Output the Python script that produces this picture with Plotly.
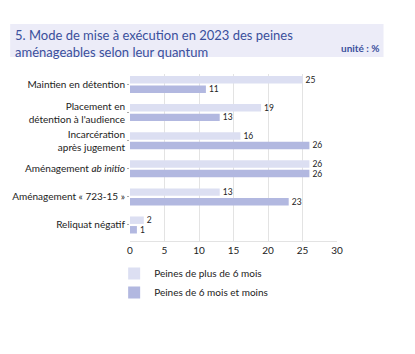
import plotly.graph_objects as go

categories = [
    "Maintien en détention",
    "Placement en<br>détention à l'audience",
    "Incarcération<br>après jugement",
    "Aménagement <i>ab initio</i>",
    "Aménagement « 723-15 »",
    "Reliquat négatif",
]
plus_6_mois = [25, 19, 16, 26, 13, 2]
moins_6_mois = [11, 13, 26, 26, 23, 1]
series_names = ["Peines de plus de 6 mois", "Peines de 6 mois et moins"]
x_ticks = [0, 5, 10, 15, 20, 25, 30]

W, H = 415, 354
L, R, T, B = 128, 78, 74, 113
PW, PH = W - L - R, H - T - B


def px(x):
    return (x - L) / PW


def py(y):
    return (H - B - y) / PH


FONT = "Lato, 'Open Sans', sans-serif"

fig = go.Figure()
fig.add_trace(go.Bar(
    y=categories, x=plus_6_mois, orientation="h", name=series_names[0],
    marker=dict(color="#dcdff2", line=dict(width=0)),
    text=plus_6_mois, textposition="outside", cliponaxis=False,
    constraintext="none",
    textfont=dict(size=8.5, color="#222222"),
))
fig.add_trace(go.Bar(
    y=categories, x=moins_6_mois, orientation="h", name=series_names[1],
    marker=dict(color="#b2b8e0", line=dict(width=0)),
    text=moins_6_mois, textposition="outside", cliponaxis=False,
    constraintext="none",
    textfont=dict(size=8.5, color="#222222"),
))

fig.update_layout(
    width=W, height=H,
    margin=dict(l=L, r=R, t=T, b=B),
    paper_bgcolor="white", plot_bgcolor="white",
    barmode="group", bargap=0.32, bargroupgap=0.22,
    font=dict(family=FONT, size=10, color="#222222"),
    xaxis=dict(range=[0, 30], tickvals=x_ticks, showgrid=True,
               gridcolor="#e3e3e3", gridwidth=1, zeroline=False,
               showline=True, linecolor="#e3e3e3",
               tickfont=dict(size=10, color="#222222"), ticks=""),
    yaxis=dict(range=[5.57, -0.374], autorange=False, showgrid=False,
               tickfont=dict(size=10, color="#222222"),
               ticks="outside", ticklen=2, tickcolor="#aaaaaa",
               showline=False),
    legend=dict(x=px(112), y=py(259), xanchor="left", yanchor="top",
                font=dict(size=10, color="#222222"),
                itemwidth=30, traceorder="normal", bgcolor="rgba(0,0,0,0)"),
    showlegend=True,
)

fig.add_shape(type="rect", xref="paper", yref="paper",
              x0=px(7), x1=px(384), y0=py(57), y1=py(24),
              fillcolor="#ececf8", line=dict(width=0), layer="below")
fig.add_annotation(xref="paper", yref="paper", x=px(10), y=py(25),
                   xanchor="left", yanchor="top", align="left", showarrow=False,
                   text="5. Mode de mise à exécution en 2023 des peines<br>aménageables selon leur quantum",
                   font=dict(family=FONT, size=13, color="#3a4f9c"))
fig.add_annotation(xref="paper", yref="paper", x=px(381), y=py(56),
                   xanchor="right", yanchor="bottom", showarrow=False,
                   text="unité : %",
                   font=dict(family=FONT, size=10, color="#3a4f9c", weight="bold"))

fig.write_html("out.html")
